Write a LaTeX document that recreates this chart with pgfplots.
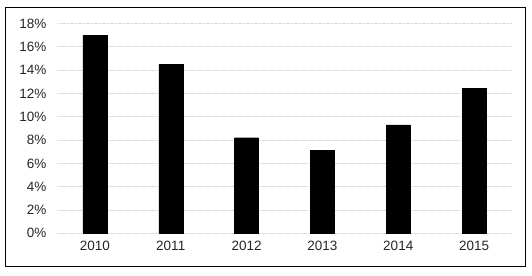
\documentclass[border=0pt]{standalone}
\usepackage{fontspec}
\setmainfont{Liberation Sans}
\usepackage{pgfplots}
\pgfplotsset{compat=1.18}
\begin{document}
\begin{tikzpicture}
\begin{axis}[
  name=ax,
  scale only axis,
  width=455pt, height=209.8pt,
  xmin=-0.5, xmax=5.5,
  ymin=0, ymax=18,
  ytick={0,2,...,18},
  xtick=data,
  xticklabels={2010,2011,2012,2013,2014,2015},
  yticklabel={\pgfmathprintnumber{\tick}\%},
  /pgf/number format/assume math mode=true,
  ticklabel style={font=\fontsize{13.5}{15}\selectfont, text=black!85},
  major tick length=0pt,
  axis line style={draw=none},
  ymajorgrids,
  grid style={draw=black!15, line width=0.8pt, dash pattern=on 1.2pt off 0.4pt},
  yticklabel style={xshift=-7pt},
  xticklabel style={yshift=-4pt},
  ybar, bar width=24pt,
  clip=false,
]
\addplot[fill=black, draw=black] coordinates {(0,17.0) (1,14.5) (2,8.2) (3,7.1) (4,9.3) (5,12.45)};
\end{axis}
\draw[black, line width=0.9pt] ([xshift=-52pt,yshift=-33pt]ax.south west) rectangle ([xshift=13pt,yshift=16.5pt]ax.north east);
\path ([xshift=-57pt,yshift=-42pt]ax.south west) rectangle ([xshift=20pt,yshift=23.5pt]ax.north east);
\end{tikzpicture}
\end{document}
